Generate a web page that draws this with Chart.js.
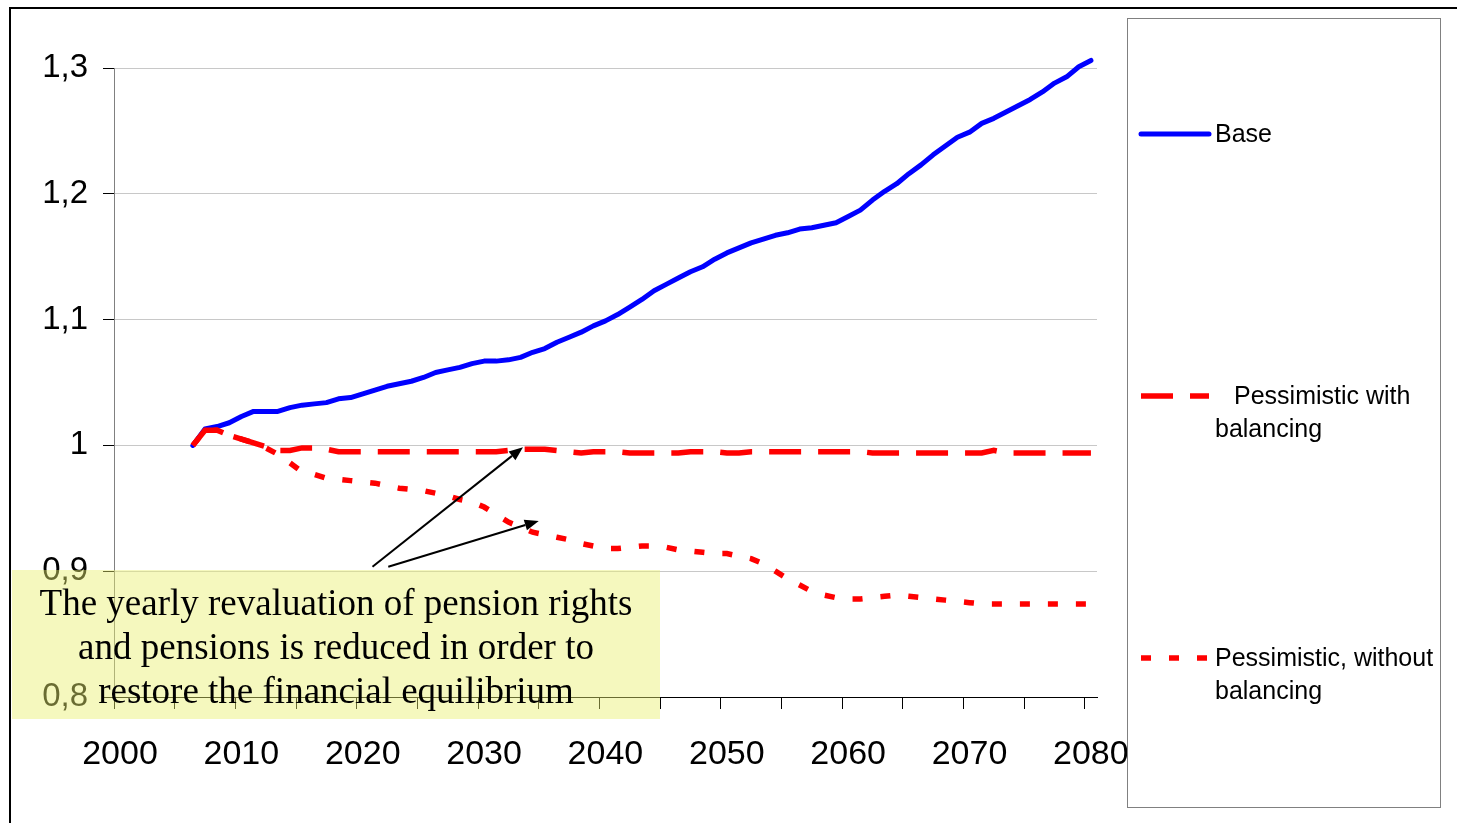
<!DOCTYPE html>
<html>
<head>
<meta charset="utf-8">
<script src="https://cdn.jsdelivr.net/npm/chart.js@4/dist/chart.umd.min.js"></script>
<style>
  html, body { margin: 0; padding: 0; background: #fff; }
  #wrap { width: 1457px; height: 823px; position: relative; }
</style>
</head>
<body>
<div id="wrap"><canvas id="chart"></canvas></div>
<script>
// Years plotted
const years = [
  2006, 2007, 2008, 2009, 2010, 2011, 2012, 2013, 2014, 2015,
  2016, 2017, 2018, 2019, 2020, 2021, 2022, 2023, 2024, 2025,
  2026, 2027, 2028, 2029, 2030, 2031, 2032, 2033, 2034, 2035,
  2036, 2037, 2038, 2039, 2040, 2041, 2042, 2043, 2044, 2045,
  2046, 2047, 2048, 2049, 2050, 2051, 2052, 2053, 2054, 2055,
  2056, 2057, 2058, 2059, 2060, 2061, 2062, 2063, 2064, 2065,
  2066, 2067, 2068, 2069, 2070, 2071, 2072, 2073, 2074, 2075,
  2076, 2077, 2078, 2079, 2080
];

// Base scenario
const baseValues = [
  1.000, 1.013, 1.015, 1.018, 1.023, 1.027, 1.027, 1.027, 1.030, 1.032,
  1.033, 1.034, 1.037, 1.038, 1.041, 1.044, 1.047, 1.049, 1.051, 1.054,
  1.058, 1.060, 1.062, 1.065, 1.067, 1.067, 1.068, 1.070, 1.074, 1.077,
  1.082, 1.086, 1.090, 1.095, 1.099, 1.104, 1.110, 1.116, 1.123, 1.128,
  1.133, 1.138, 1.142, 1.148, 1.153, 1.157, 1.161, 1.164, 1.167, 1.169,
  1.172, 1.173, 1.175, 1.177, 1.182, 1.187, 1.195, 1.202, 1.208, 1.216,
  1.223, 1.231, 1.238, 1.245, 1.249, 1.256, 1.260, 1.265, 1.270, 1.275,
  1.281, 1.288, 1.293, 1.301, 1.306
];

// Pessimistic scenario, with balancing
const balancedValues = [
  1.000, 1.012, 1.012, 1.008, 1.005, 1.002, 0.999, 0.996, 0.996, 0.998,
  0.998, 0.997, 0.995, 0.995, 0.995, 0.995, 0.995, 0.995, 0.995, 0.995,
  0.995, 0.995, 0.995, 0.995, 0.995, 0.995, 0.996, 0.997, 0.997, 0.997,
  0.996, 0.995, 0.994, 0.995, 0.995, 0.995, 0.994, 0.994, 0.994, 0.994,
  0.994, 0.995, 0.995, 0.995, 0.994, 0.994, 0.995, 0.995, 0.995, 0.995,
  0.995, 0.995, 0.995, 0.995, 0.995, 0.995, 0.994, 0.994, 0.994, 0.994,
  0.994, 0.994, 0.994, 0.994, 0.994, 0.994, 0.996, 0.994, 0.994, 0.994,
  0.994, 0.994, 0.994, 0.994, 0.994
];

// Pessimistic scenario, without balancing
const unbalancedValues = [
  1.000, 1.012, 1.012, 1.008, 1.005, 1.002, 0.998, 0.993, 0.986, 0.979,
  0.977, 0.974, 0.973, 0.972, 0.971, 0.970, 0.968, 0.966, 0.965, 0.964,
  0.962, 0.960, 0.957, 0.955, 0.951, 0.945, 0.939, 0.935, 0.931, 0.929,
  0.927, 0.925, 0.922, 0.920, 0.918, 0.918, 0.919, 0.920, 0.920, 0.919,
  0.917, 0.916, 0.915, 0.914, 0.914, 0.912, 0.910, 0.906, 0.900, 0.894,
  0.889, 0.884, 0.881, 0.879, 0.878, 0.878, 0.879, 0.880, 0.881, 0.880,
  0.879, 0.878, 0.877, 0.876, 0.875, 0.874, 0.874, 0.874, 0.874, 0.874,
  0.874, 0.874, 0.874, 0.874, 0.874
];

const seriesLabels = ['Base', 'Pessimistic with balancing', 'Pessimistic, without balancing'];
const yearLabels = [2000, 2010, 2020, 2030, 2040, 2050, 2060, 2070, 2080];
const valueTicks = [0.8, 0.9, 1.0, 1.1, 1.2, 1.3];
const noteLines = [
  'The yearly revaluation of pension rights',
  'and pensions is reduced in order to',
  'restore the financial equilibrium'
];

const SANS = "'Liberation Sans', Arial, sans-serif";
const SERIF = "'Liberation Serif', 'Times New Roman', serif";

function formatValue(v) {
  const r = Math.round(v * 10) / 10;
  return r === 1 ? '1' : r.toFixed(1).replace('.', ',');
}

// White page with the outer frame
const framePlugin = {
  id: 'frame',
  beforeDraw(chart) {
    const ctx = chart.ctx;
    ctx.save();
    ctx.fillStyle = '#fff';
    ctx.fillRect(0, 0, chart.width, chart.height);
    ctx.strokeStyle = '#000';
    ctx.lineWidth = 2;
    ctx.strokeRect(10, 8, chart.width + 20, chart.height + 20);
    ctx.restore();
  }
};

// Boxed legend on the right with wrapped labels
const sideLegendPlugin = {
  id: 'sideLegend',
  afterDraw(chart) {
    const ctx = chart.ctx;
    const box = { x: 1127, y: 18, w: 313, h: 789 };
    ctx.save();
    ctx.strokeStyle = '#808080';
    ctx.lineWidth = 1;
    ctx.strokeRect(box.x + 0.5, box.y + 0.5, box.w, box.h);
    ctx.font = '25px ' + SANS;
    ctx.fillStyle = '#000';
    ctx.textBaseline = 'middle';
    const indents = [0, 19, 0];
    chart.data.datasets.forEach((ds, i) => {
      const cy = box.y + 116 + i * 262;
      ctx.save();
      ctx.strokeStyle = ds.borderColor;
      ctx.lineWidth = ds.borderWidth;
      ctx.lineCap = ds.borderCapStyle || 'butt';
      ctx.setLineDash(ds.borderDash || []);
      ctx.beginPath();
      ctx.moveTo(1141, cy);
      ctx.lineTo(1209, cy);
      ctx.stroke();
      ctx.restore();
      // wrap text into the box width
      const words = ds.label.split(' ');
      const lines = [];
      let cur = '';
      const maxW = 222;
      words.forEach(w => {
        const t = cur ? cur + ' ' + w : w;
        const wIndent = lines.length === 0 ? indents[i] : 0;
        if (ctx.measureText(t).width + wIndent > maxW && cur) {
          lines.push(cur);
          cur = w;
        } else {
          cur = t;
        }
      });
      if (cur) lines.push(cur);
      lines.forEach((ln, k) => {
        const dx = k === 0 ? indents[i] : 0;
        ctx.fillText(ln, 1215 + dx, cy + 1 + k * 33);
      });
    });
    ctx.restore();
  }
};

// Highlighted note box with arrows pointing to the two pessimistic series
const notePlugin = {
  id: 'note',
  afterDraw(chart) {
    const ctx = chart.ctx;
    const xs = chart.scales.x, ys = chart.scales.y;
    ctx.save();
    ctx.fillStyle = 'rgba(232, 240, 110, 0.45)';
    ctx.fillRect(12, 570, 648, 149);
    ctx.fillStyle = '#000';
    ctx.font = '37px ' + SERIF;
    ctx.textAlign = 'center';
    ctx.textBaseline = 'alphabetic';
    noteLines.forEach((ln, i) => ctx.fillText(ln, 336, 615 + i * 44));

    const arrows = [
      { from: [2020.8, 0.9035], to: [2033.2, 0.9986] },
      { from: [2022.1, 0.9035], to: [2034.5, 0.940] }
    ];
    ctx.strokeStyle = '#000';
    ctx.lineWidth = 2;
    arrows.forEach(a => {
      const x1 = xs.getPixelForValue(a.from[0]), y1 = ys.getPixelForValue(a.from[1]);
      const x2 = xs.getPixelForValue(a.to[0]), y2 = ys.getPixelForValue(a.to[1]);
      const ang = Math.atan2(y2 - y1, x2 - x1);
      const head = 14, half = 5.5;
      const bx = x2 - head * Math.cos(ang), by = y2 - head * Math.sin(ang);
      ctx.beginPath();
      ctx.moveTo(x1, y1);
      ctx.lineTo(bx, by);
      ctx.stroke();
      ctx.beginPath();
      ctx.moveTo(x2, y2);
      ctx.lineTo(bx + half * Math.sin(ang), by - half * Math.cos(ang));
      ctx.lineTo(bx - half * Math.sin(ang), by + half * Math.cos(ang));
      ctx.closePath();
      ctx.fill();
    });
    ctx.restore();
  }
};

const toPoints = vals => years.map((yr, i) => ({ x: yr, y: vals[i] }));

new Chart(document.getElementById('chart'), {
  type: 'line',
  data: {
    datasets: [
      {
        label: seriesLabels[0],
        data: toPoints(baseValues),
        borderColor: '#0000ff',
        borderWidth: 5,
        borderCapStyle: 'round',
        borderJoinStyle: 'round',
        order: 3
      },
      {
        label: seriesLabels[1],
        data: toPoints(balancedValues),
        borderColor: '#ff0000',
        borderWidth: 5.5,
        borderDash: [32, 17],
        borderCapStyle: 'butt',
        order: 2
      },
      {
        label: seriesLabels[2],
        data: toPoints(unbalancedValues),
        borderColor: '#ff0000',
        borderWidth: 5.5,
        borderDash: [10, 18],
        borderCapStyle: 'butt',
        order: 1
      }
    ]
  },
  options: {
    responsive: true,
    maintainAspectRatio: false,
    animation: false,
    layout: { padding: { left: 0, top: 68, right: 360, bottom: 0 } },
    elements: { point: { radius: 0 }, line: { tension: 0 } },
    datasets: { line: { clip: false } },
    plugins: { legend: { display: false }, tooltip: { enabled: false } },
    scales: {
      x: {
        type: 'linear',
        min: 1999.5,
        max: 2080.5,
        afterBuildTicks: s => {
          const t = [];
          for (let v = 1999.5; v < 2080.5; v += 5) t.push({ value: v });
          s.ticks = t;
        },
        afterFit: s => { s.height = 126; },
        grid: { drawOnChartArea: false, tickLength: 12, tickColor: '#000', color: '#000' },
        border: { color: '#000', width: 1 },
        ticks: {
          autoSkip: false,
          maxRotation: 0,
          labelOffset: 6,
          padding: 25,
          color: '#000',
          font: { family: SANS, size: 34 },
          callback: v => {
            const yr = Math.round(v + 0.5);
            return yearLabels.includes(yr) ? String(yr) : '';
          }
        }
      },
      y: {
        type: 'linear',
        min: 0.8,
        max: 1.3,
        afterBuildTicks: s => { s.ticks = valueTicks.map(v => ({ value: v })); },
        afterFit: s => { s.width = 114; },
        grid: { color: '#c8c8c8', lineWidth: 1, tickLength: 11, tickColor: '#000' },
        border: { color: '#808080', width: 1 },
        ticks: {
          padding: 15,
          color: '#000',
          font: { family: SANS, size: 33 },
          callback: v => formatValue(v)
        }
      }
    }
  },
  plugins: [framePlugin, sideLegendPlugin, notePlugin]
});
</script>
</body>
</html>
